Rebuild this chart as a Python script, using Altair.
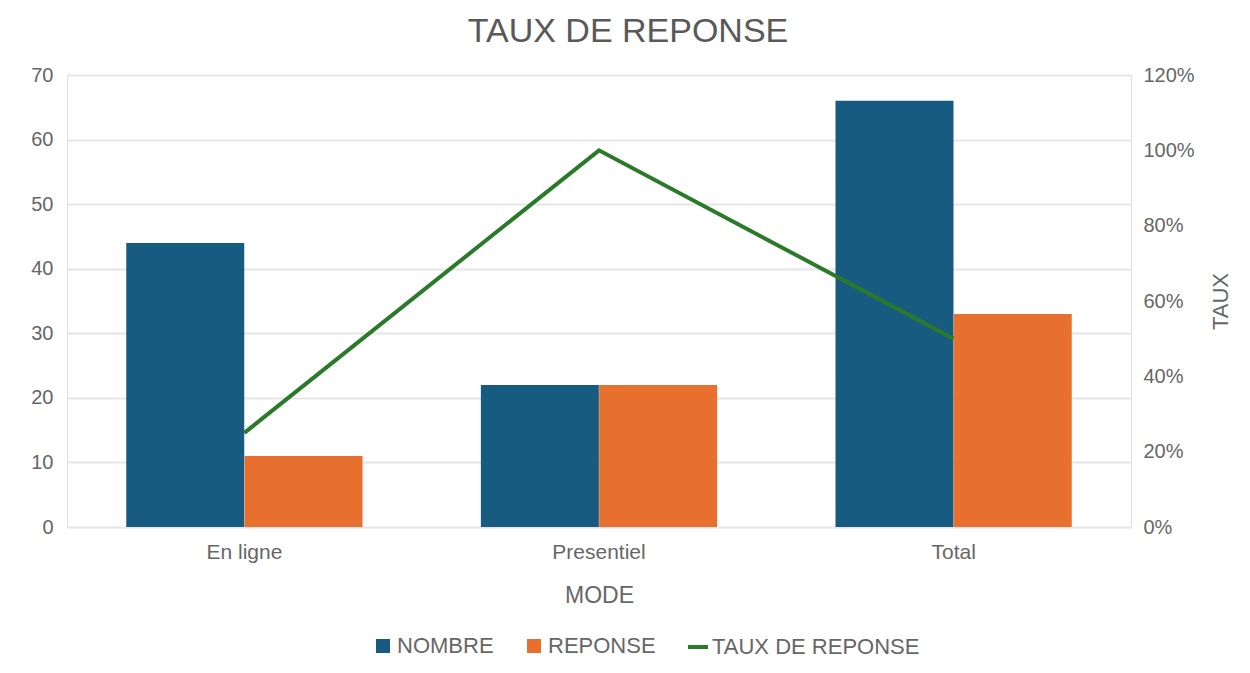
import altair as alt
import pandas as pd

modes = ["En ligne", "Presentiel", "Total"]
nombre = [44, 22, 66]
reponse = [11, 22, 33]
taux = [0.25, 1.00, 0.50]

bar_series = ["NOMBRE", "REPONSE"]
bar_colors = ["#175C80", "#E8702F"]
line_series = ["TAUX DE REPONSE"]
line_colors = ["#2A7A2A"]

bars_df = pd.DataFrame(
    [{"MODE": m, "serie": "NOMBRE", "valeur": v} for m, v in zip(modes, nombre)]
    + [{"MODE": m, "serie": "REPONSE", "valeur": v} for m, v in zip(modes, reponse)]
)
line_df = pd.DataFrame({"MODE": modes, "taux": taux, "serie": line_series * 3})

FONT = "Liberation Sans"
GREY = "#666666"

x_enc = alt.X(
    "MODE:N",
    sort=modes,
    title="MODE",
    scale=alt.Scale(paddingInner=0.333, paddingOuter=0.1667),
    axis=alt.Axis(
        labelAngle=0, labelFontSize=21, labelColor=GREY, labelFont=FONT,
        titleFontSize=23, titleColor=GREY, titleFont=FONT, titleFontWeight="normal",
        domain=False, ticks=False, labelPadding=14, titlePadding=22,
    ),
)

bars = alt.Chart(bars_df).mark_bar(size=118).encode(
    x=x_enc,
    xOffset=alt.XOffset("serie:N", sort=bar_series),
    y=alt.Y(
        "valeur:Q",
        title=None,
        scale=alt.Scale(domain=[0, 70]),
        axis=alt.Axis(
            values=[0, 10, 20, 30, 40, 50, 60, 70], labelFontSize=20, labelColor=GREY,
            labelFont=FONT, domain=False, ticks=False, labelPadding=14,
            gridColor="#E6E6E6", gridWidth=2,
        ),
    ),
    color=alt.Color(
        "serie:N",
        scale=alt.Scale(domain=bar_series, range=bar_colors),
        legend=alt.Legend(
            title=None, orient="none", direction="horizontal", legendX=305, legendY=560,
            labelFontSize=22, labelColor=GREY, labelFont=FONT, symbolSize=196,
            symbolType="square", symbolStrokeWidth=0, columnPadding=29, labelOffset=3,
            labelLimit=400,
        ),
    ),
)

line = alt.Chart(line_df).mark_line(strokeWidth=4).encode(
    x=alt.X("MODE:N", sort=modes),
    y=alt.Y(
        "taux:Q",
        title="TAUX",
        scale=alt.Scale(domain=[0, 1.2]),
        axis=alt.Axis(
            orient="right", format=".0%", values=[0, 0.2, 0.4, 0.6, 0.8, 1.0, 1.2],
            labelFontSize=20, labelColor=GREY, labelFont=FONT, domain=False, ticks=False,
            grid=False, labelPadding=12, titleFontSize=22, titleColor=GREY, titleFont=FONT,
            titleFontWeight="normal", titleAngle=270, titlePadding=38,
        ),
    ),
    stroke=alt.Stroke(
        "serie:N",
        scale=alt.Scale(domain=line_series, range=line_colors),
        legend=alt.Legend(
            title=None, orient="none", direction="horizontal", legendX=619, legendY=560,
            labelFontSize=22, labelColor=GREY, labelFont=FONT, symbolSize=400,
            symbolType="stroke", symbolStrokeWidth=4, labelOffset=2, labelLimit=400,
        ),
    ),
)

chart = (
    alt.layer(bars, line)
    .resolve_scale(y="independent")
    .properties(
        width=1064,
        height=452,
        title=alt.TitleParams(
            "TAUX DE REPONSE", fontSize=34, color="#595959", font=FONT,
            fontWeight="normal", anchor="middle", offset=16, dx=29,
        ),
        autosize=alt.AutoSizeParams(type="none"),
        padding={"left": 59, "top": 67, "right": 110, "bottom": 130},
    )
    .configure_view(stroke=None)
    .configure(background="white")
)

chart.save("out.html", embed_options={"renderer": "svg", "actions": False})
